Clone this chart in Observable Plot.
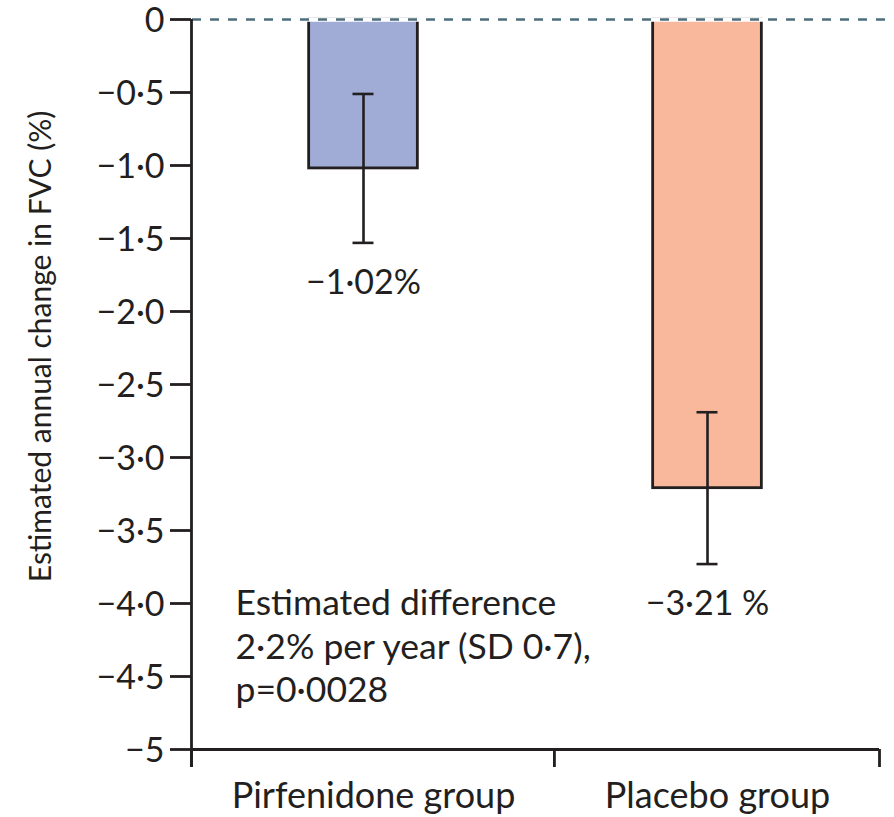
<!DOCTYPE html>
<html><head><meta charset="utf-8">
<script src="https://cdn.jsdelivr.net/npm/d3@7"></script>
<script src="https://cdn.jsdelivr.net/npm/@observablehq/plot@0.6"></script>
<style>body{margin:0;background:#fff} svg{display:block}</style>
</head><body><div id="chart"></div>
<script>
// ---- data ----
const groups = ["Pirfenidone group", "Placebo group"];
const groupPos = [0.5, 1.5];
const estimates = [-1.02, -3.21];
const errHigh = [-0.51, -2.69];
const errLow = [-1.53, -3.73];
const valueLabels = ["−1·02%", "−3·21 %"];
const fills = ["#a0acd5", "#f9b89c"];
const yTicks = [0, -0.5, -1, -1.5, -2, -2.5, -3, -3.5, -4, -4.5, -5];
const yTickLabels = ["0", "−0·5", "−1·0", "−1·5", "−2·0", "−2·5", "−3·0", "−3·5", "−4·0", "−4·5", "−5"];
const xTicks = [0, 1.055, 2];
const annotationLines = ["Estimated difference", "2·2% per year (SD 0·7),", "p=0·0028"];
const yLabel = "Estimated annual change in FVC (%)";

// ---- styling constants ----
const ink = "#231f20";
const barHalf = 0.158;
const mainFont = "Lato";

const rows = groups.map((g, i) => ({
  group: g, pos: groupPos[i], x1: groupPos[i] - barHalf, x2: groupPos[i] + barHalf,
  value: estimates[i], hi: errHigh[i], lo: errLow[i], label: valueLabels[i], fill: fills[i]
}));

const chart = Plot.plot({
  width: 894, height: 817,
  marginLeft: 191, marginRight: 15, marginTop: 19, marginBottom: 68,
  x: {domain: [0, 2], axis: null},
  y: {domain: [-5, 0], axis: null},
  color: {type: "identity"},
  style: {background: "white", fontFamily: mainFont, overflow: "visible"},
  marks: [
    Plot.rectY(rows, {x1: "x1", x2: "x2", y1: 0, y2: "value", fill: "fill", stroke: ink, strokeWidth: 2.8}),
    Plot.ruleY([0], {stroke: "white", strokeWidth: 4.5, insetLeft: 2, insetRight: -15}),
    Plot.ruleY([0], {stroke: "#4d6e7a", strokeWidth: 2.6, strokeDasharray: "9,9", insetLeft: 1, insetRight: -15}),
    // error bars
    Plot.ruleX(rows, {x: "pos", y1: "hi", y2: "lo", stroke: ink, strokeWidth: 2.6}),
    Plot.ruleY(rows, {x1: "pos", x2: "pos", y: "hi", stroke: ink, strokeWidth: 2.6, insetLeft: -10.5, insetRight: -10.5}),
    Plot.ruleY(rows, {x1: "pos", x2: "pos", y: "lo", stroke: ink, strokeWidth: 2.6, insetLeft: -10.5, insetRight: -10.5}),
    // value labels
    Plot.text(rows, {x: "pos", y: "lo", text: "label", dy: 40, fontSize: 34, fill: ink, textAnchor: "middle"}),
    // annotation
    Plot.text([annotationLines.join("\n")], {x: 0, y: -4, dx: 44, dy: -19, lineAnchor: "top", textAnchor: "start", fontSize: 35.5, lineHeight: 1.22, fill: ink}),
    // axes
    Plot.ruleX([0], {y1: 0, y2: -5, insetBottom: -18, stroke: ink, strokeWidth: 2.8}),
    Plot.ruleY([-5], {x1: 0, x2: 2, stroke: ink, strokeWidth: 2.8}),
    Plot.ruleX(xTicks, {y1: -5, y2: -5, insetBottom: -18, stroke: ink, strokeWidth: 2.8}),
    Plot.ruleY(yTicks, {x1: 0, x2: 0, insetLeft: -21, stroke: ink, strokeWidth: 2.8}),
    Plot.text(yTicks, {x: 0, y: d => d, text: (d, i) => yTickLabels[i], dx: -27, dy: 2, textAnchor: "end", fontSize: 34, fill: ink}),
    Plot.text(rows, {x: "pos", y: -5, text: "group", dy: 47, dx: 10, fontSize: 36, fill: ink, textAnchor: "middle"}),
    Plot.text([yLabel], {frameAnchor: "left", rotate: -90, dx: -150, dy: -38, fontSize: 30, fill: ink, textAnchor: "middle"})
  ]
});
document.getElementById("chart").appendChild(chart);
</script>
</body></html>
